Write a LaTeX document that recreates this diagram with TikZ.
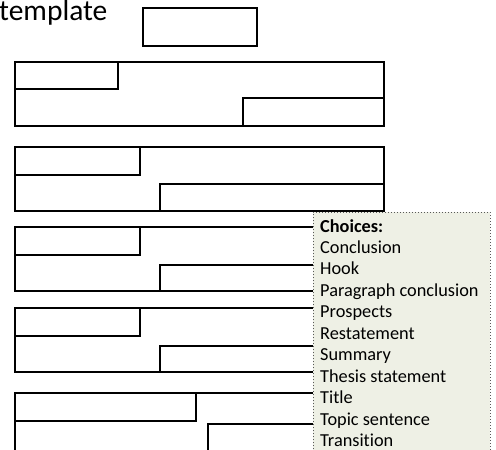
\documentclass[tikz,border=0pt]{standalone}
\usepackage{fontspec}
\setmainfont{Carlito}[Ligatures=NoCommon]
\definecolor{popupbg}{RGB}{238,240,229}
\begin{document}
\begin{tikzpicture}[x=1pt,y=-1pt,
  outerbox/.style={draw=black,line width=2.4pt},
  innerbox/.style={draw=black,line width=1.5pt},
  popupedge/.style={draw=black!65,dotted,line width=1pt},
  choice/.style={anchor=base west,inner sep=0pt,font=\fontsize{18.3}{21.4}\selectfont}]
\useasboundingbox (0,0) rectangle (496,450);
% title
\node[anchor=base west,inner sep=0pt,font=\fontsize{29.5}{32}\selectfont] (tpl) at (-1,20.7) {template};
\draw[outerbox] (143,8) rectangle (257,46);
% groups: top, bottom, TL right, TL bottom, BR left, BR top
\foreach \t/\b/\tr/\tb/\bl/\bt [count=\i] in {62/126/118/89/243/98, 147/211/140/175/160/184, 227/291/140/255/160/265, 308/372/140/336/160/346, 393/470/196/421/208/424}{
  \draw[innerbox] (15,\t) rectangle (\tr,\tb);
  \draw[innerbox] (\bl,\bt) rectangle (384,\b);
  \draw[outerbox] (15,\t) rectangle (384,\b);
}
% popup
\fill[popupbg] (313,212) rectangle (490,455);
\draw[popupedge] (313,455) -- (313,212) -- (490,212) -- (490,455);
\node[choice,font=\fontsize{18.3}{21.4}\selectfont\bfseries] (c0) at (320,232) {Choices:};
\foreach \txt [count=\k] in {Conclusion,Hook,Paragraph conclusion,Prospects,Restatement,Summary,Thesis statement,Title,Topic sentence,Transition}{
  \node[choice] (c\k) at (320,{232+21.45*\k}) {\txt};
}
\end{tikzpicture}
\end{document}
